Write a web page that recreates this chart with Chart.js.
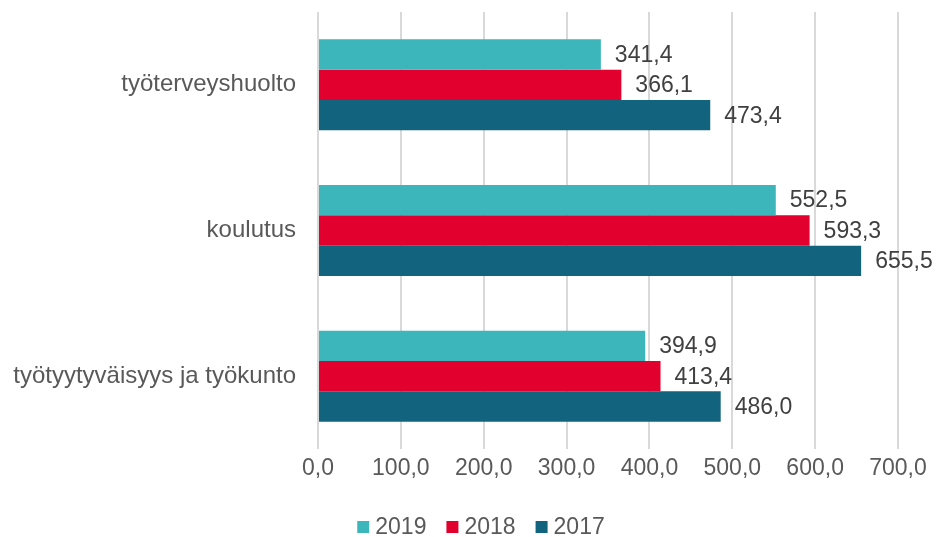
<!DOCTYPE html>
<html>
<head>
<meta charset="utf-8">
<script src="https://cdn.jsdelivr.net/npm/chart.js@4"></script>
<style>
  html, body { margin: 0; padding: 0; background: #fff; }
  #wrap { width: 948px; height: 537px; }
</style>
</head>
<body>
<div id="wrap"><canvas id="chart" width="948" height="537"></canvas></div>
<script>
'use strict';

/* ---- Data ---- */
const categories = ['työterveyshuolto', 'koulutus', 'työtyytyväisyys ja työkunto'];
const years = ['2019', '2018', '2017'];
const values2019 = [341.4, 552.5, 394.9];
const values2018 = [366.1, 593.3, 413.4];
const values2017 = [473.4, 655.5, 486.0];
const xTicks = [0, 100, 200, 300, 400, 500, 600, 700];

/* ---- Styles ---- */
const COLORS = {
  y2019: '#3cb6bb',
  y2018: '#e2002e',
  y2017: '#11637e',
  grid: '#d9d9d9',
  axisText: '#595959',
  labelText: '#404040',
};
const FAMILY = "'Liberation Sans', Arial, sans-serif";
const baseFont = { family: FAMILY, size: 23 };
const catFont = { family: FAMILY, size: 24 };

const fmt = v => v.toFixed(1).replace('.', ',');

/* value labels at bar ends */
const barLabels = {
  id: 'barLabels',
  afterDatasetsDraw(chart) {
    const { ctx } = chart;
    ctx.save();
    ctx.font = `${baseFont.size}px ${FAMILY}`;
    ctx.fillStyle = COLORS.labelText;
    ctx.textAlign = 'left';
    ctx.textBaseline = 'middle';
    chart.data.datasets.forEach((ds, i) => {
      chart.getDatasetMeta(i).data.forEach((bar, j) => {
        ctx.fillText(fmt(ds.data[j]), bar.x + 14, bar.y + 1);
      });
    });
    ctx.restore();
  }
};

/* legend drawn by hand: small squares, tight text gap */
const bottomLegend = {
  id: 'bottomLegend',
  afterDraw(chart) {
    const { ctx } = chart;
    const box = 12, gap = 6, itemGap = 20, cx = 481, cy = 527;
    ctx.save();
    ctx.font = `${baseFont.size}px ${FAMILY}`;
    ctx.textBaseline = 'middle';
    ctx.textAlign = 'left';
    const items = chart.data.datasets.map(ds => ({
      text: ds.label, color: ds.backgroundColor, w: ctx.measureText(ds.label).width
    }));
    const total = items.reduce((s, it) => s + box + gap + it.w, 0) + itemGap * (items.length - 1);
    let x = cx - total / 2;
    items.forEach(it => {
      ctx.fillStyle = it.color;
      ctx.fillRect(x, cy - box / 2, box, box);
      ctx.fillStyle = COLORS.axisText;
      ctx.fillText(it.text, x + box + gap, cy + 1);
      x += box + gap + it.w + itemGap;
    });
    ctx.restore();
  }
};

function makeDataset(label, data, color) {
  return {
    label, data,
    backgroundColor: color,
    borderWidth: 0,
    barPercentage: 1.0,
    categoryPercentage: 0.625,
  };
}

new Chart(document.getElementById('chart'), {
  type: 'bar',
  data: {
    labels: categories,
    datasets: [
      makeDataset(years[0], values2019, COLORS.y2019),
      makeDataset(years[1], values2018, COLORS.y2018),
      makeDataset(years[2], values2017, COLORS.y2017),
    ]
  },
  options: {
    indexAxis: 'y',
    responsive: false,
    animation: false,
    layout: { padding: { left: 0, right: 50, top: 12, bottom: 36 } },
    plugins: {
      legend: { display: false },
      tooltip: { enabled: false }
    },
    scales: {
      x: {
        min: 0, max: 700,
        afterBuildTicks: s => { s.ticks = xTicks.map(v => ({ value: v })); },
        afterFit: s => { s.height = 52; },
        grid: { color: COLORS.grid, lineWidth: 2, drawTicks: false },
        border: { display: false },
        ticks: { color: COLORS.axisText, font: baseFont, padding: 6, callback: v => fmt(v) }
      },
      y: {
        afterFit: s => { s.width = 318; s.paddingTop = 0; s.paddingBottom = 0; },
        grid: { display: false, drawTicks: false },
        border: { display: false },
        ticks: { color: COLORS.axisText, font: catFont, padding: 22 }
      }
    }
  },
  plugins: [barLabels, bottomLegend]
});
</script>
</body>
</html>
